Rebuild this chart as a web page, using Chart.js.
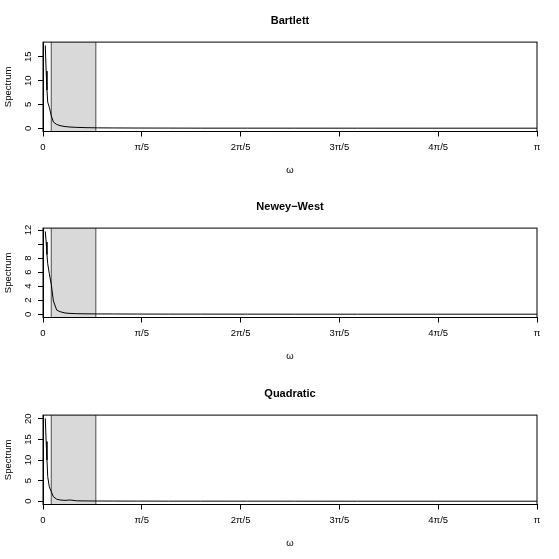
<!DOCTYPE html>
<html>
<head>
<meta charset="utf-8">
<script src="https://cdn.jsdelivr.net/npm/chart.js@4/dist/chart.umd.min.js"></script>
<style>
  html, body { margin: 0; padding: 0; background: #fff; }
  .panel { position: absolute; left: 0; width: 559px; height: 186px; }
</style>
</head>
<body>
<div class="panel" style="top:0px"><canvas id="c1"></canvas></div>
<div class="panel" style="top:186px"><canvas id="c2"></canvas></div>
<div class="panel" style="top:373px"><canvas id="c3"></canvas></div>
<script>
// ---- data ----
const omega = [0.0146, 0.0200, 0.0254, 0.0300, 0.0400, 0.0530, 0.0660, 0.0870, 0.1080, 0.1400, 0.1720, 0.2150, 0.2800, 0.3450, 0.4500, 0.6000, 0.8000, 1.0000, 1.3000, 1.6000, 2.0000, 2.5000, 3.1416];
const bartlett  = [17.4, 12.0, 8.0, 5.5, 4.4, 2.6, 1.3, 0.80, 0.55, 0.35, 0.25, 0.18, 0.12, 0.08, 0.06, 0.04, 0.03, 0.02, 0.02, 0.015, 0.012, 0.01, 0.01];
const neweyWest = [11.8, 10.3, 8.5, 7.2, 5.8, 4.2, 1.9, 0.60, 0.37, 0.18, 0.12, 0.08, 0.06, 0.05, 0.04, 0.03, 0.02, 0.02, 0.015, 0.012, 0.01, 0.01, 0.01];
const quadratic = [20.1, 14.5, 10.0, 6.0, 3.5, 2.3, 1.1, 0.50, 0.30, 0.20, 0.30, 0.10, 0.07, 0.05, 0.04, 0.03, 0.02, 0.02, 0.015, 0.012, 0.01, 0.01, 0.01];

const band = [0.0524, 0.336];

const titles = ["Bartlett", "Newey\u2212West", "Quadratic"];

const xTickValues = [0, Math.PI / 5, 2 * Math.PI / 5, 3 * Math.PI / 5, 4 * Math.PI / 5, Math.PI];
const xTickLabels = ["0", "\u03c0/5", "2\u03c0/5", "3\u03c0/5", "4\u03c0/5", "\u03c0"];

const bartlettTicks  = [0, 5, 10, 15];
const bartlettLabels = ["0", "5", "10", "15"];
const neweyTicks  = [0, 2, 4, 6, 8, 10, 12];
const neweyLabels = ["0", "2", "4", "6", "8", "", "12"];
const quadraticTicks  = [0, 5, 10, 15, 20];
const quadraticLabels = ["0", "5", "10", "15", "20"];

// ---- drawing ----
const FAMILY = '"Liberation Sans", Arial, Helvetica, sans-serif';
Chart.defaults.font.family = FAMILY;
Chart.defaults.color = '#000';

const bandPlugin = {
  id: 'band',
  beforeDatasetsDraw(chart) {
    const {ctx, chartArea: a, scales: {x}} = chart;
    const x1 = x.getPixelForValue(band[0]);
    const x2 = x.getPixelForValue(band[1]);
    ctx.save();
    ctx.fillStyle = '#d9d9d9';
    ctx.fillRect(x1, a.top, x2 - x1, a.bottom - a.top);
    ctx.strokeStyle = '#4d4d4d';
    ctx.lineWidth = 1;
    ctx.beginPath();
    ctx.moveTo(x1, a.top); ctx.lineTo(x1, a.bottom);
    ctx.moveTo(x2, a.top); ctx.lineTo(x2, a.bottom);
    ctx.stroke();
    ctx.restore();
  }
};

const boxPlugin = {
  id: 'box',
  afterDatasetsDraw(chart) {
    const {ctx, chartArea: a} = chart;
    ctx.save();
    ctx.strokeStyle = '#000';
    ctx.lineWidth = 1;
    ctx.strokeRect(a.left, a.top, a.right - a.left, a.bottom - a.top);
    ctx.restore();
  }
};

function makeChart(id, title, values, yTicks, yLabels) {
  const yMaxData = Math.max(...values);
  const yMinData = Math.min(...values);
  const pad = 0.04 * (yMaxData - yMinData);
  const axisFont = {size: 9.5, family: FAMILY};
  new Chart(document.getElementById(id), {
    type: 'line',
    data: {
      datasets: [{
        data: omega.map((w, i) => ({x: w, y: values[i]})),
        borderColor: '#000',
        borderWidth: 1,
        pointRadius: 0,
        tension: 0,
        fill: false
      }]
    },
    options: {
      responsive: true,
      maintainAspectRatio: false,
      animation: false,
      layout: {padding: {left: 0, right: 22, top: 0, bottom: 0}},
      plugins: {
        legend: {display: false},
        tooltip: {enabled: false},
        title: {
          display: true,
          text: title,
          fullSize: false,
          color: '#000',
          font: {size: 11, weight: 'bold', family: FAMILY},
          padding: {top: 14.4, bottom: 14.5}
        }
      },
      scales: {
        x: {
          type: 'linear',
          min: 0,
          max: Math.PI,
          afterBuildTicks: s => { s.ticks = xTickValues.map(v => ({value: v})); },
          afterFit: s => { s.height = 54.5; },
          ticks: {
            autoSkip: false, maxRotation: 0, minRotation: 0, padding: 5,
            color: '#000', font: axisFont,
            callback: (v, i) => xTickLabels[i]
          },
          grid: {display: true, drawOnChartArea: false, drawTicks: true, tickLength: 5, color: '#000', lineWidth: 1},
          border: {display: true, color: '#000', width: 1},
          title: {display: true, text: '\u03c9', color: '#000', font: axisFont, padding: {top: 0, bottom: 10.3}}
        },
        y: {
          type: 'linear',
          min: yMinData - pad,
          max: yMaxData + pad,
          afterBuildTicks: s => { s.ticks = yTicks.map(v => ({value: v})); },
          afterFit: s => { s.width = 43; },
          ticks: {
            autoSkip: false, minRotation: 90, maxRotation: 90, crossAlign: 'center', padding: 4,
            color: '#000', font: axisFont,
            callback: (v, i) => yLabels[i]
          },
          grid: {display: true, drawOnChartArea: false, drawTicks: true, tickLength: 5, color: '#000', lineWidth: 1},
          border: {display: true, color: '#000', width: 1},
          title: {display: true, text: 'Spectrum', color: '#000', font: axisFont, padding: {top: 3, bottom: 0}}
        }
      }
    },
    plugins: [bandPlugin, boxPlugin]
  });
}

makeChart('c1', titles[0], bartlett, bartlettTicks, bartlettLabels);
makeChart('c2', titles[1], neweyWest, neweyTicks, neweyLabels);
makeChart('c3', titles[2], quadratic, quadraticTicks, quadraticLabels);
</script>
</body>
</html>
